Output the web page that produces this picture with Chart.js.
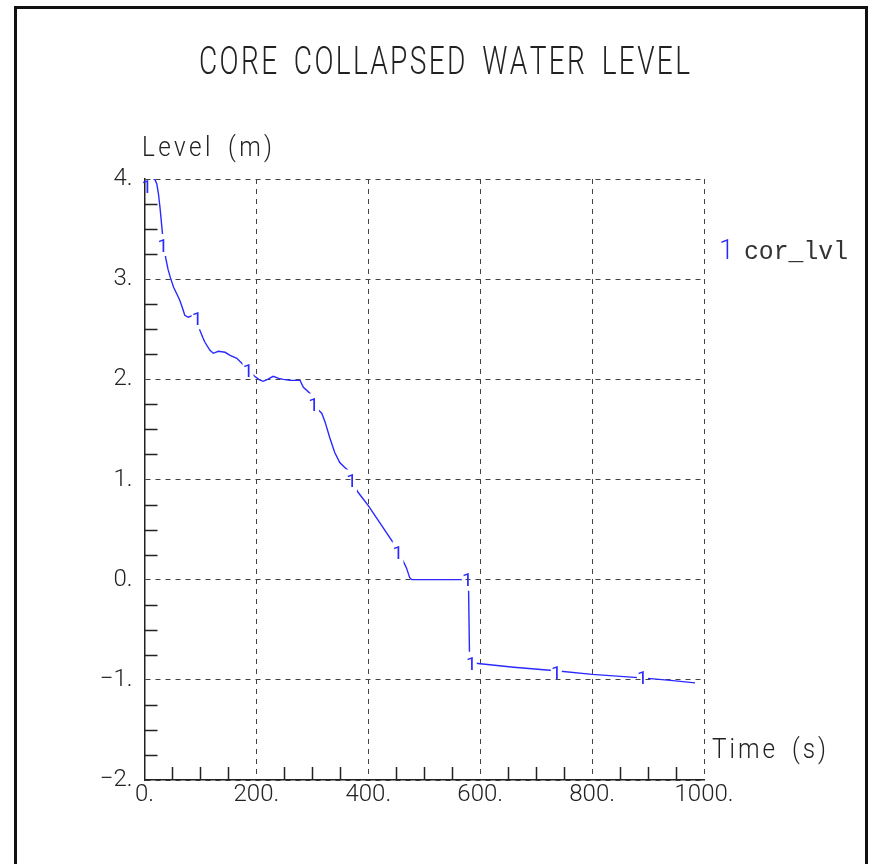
<!DOCTYPE html>
<html>
<head>
<meta charset="utf-8">
<title>Core collapsed water level</title>
<script src="https://cdn.jsdelivr.net/npm/chart.js@4.4.1/dist/chart.umd.min.js"></script>
<style>
  html, body { margin: 0; padding: 0; background: #fff; }
  #wrap { width: 869px; height: 864px; }
</style>
</head>
<body>
<div id="wrap"><canvas id="chart" width="869" height="864"></canvas></div>
<script>
// cor_lvl: collapsed water level in the core (m) against time (s)
const timeS = [0, 3, 15, 19, 22, 25, 28, 32, 35, 38, 42, 46, 52, 58, 63, 68, 72, 78, 87, 94,
  99, 104, 108, 117, 123, 132, 144, 153, 165, 174, 185, 197, 204, 212, 220, 230, 240, 248,
  260, 278, 284, 296, 302, 310, 317, 323, 331, 340, 349, 358, 364, 370, 382, 400, 424, 448,
  453, 462, 468, 474, 478, 520, 579, 581, 585, 600, 660, 735, 800, 889, 940, 984];
const levelM = [4.0, 4.01, 4.01, 3.99, 3.95, 3.85, 3.70, 3.46, 3.33, 3.21, 3.10, 3.02, 2.92, 2.85,
  2.79, 2.71, 2.64, 2.62, 2.64, 2.60, 2.49, 2.42, 2.37, 2.29, 2.26, 2.28, 2.27, 2.24, 2.21,
  2.16, 2.09, 2.03, 2.0, 1.98, 2.0, 2.03, 2.01, 2.0, 1.99, 1.99, 1.92, 1.86, 1.78, 1.70, 1.66,
  1.57, 1.42, 1.27, 1.17, 1.12, 1.09, 0.99, 0.87, 0.74, 0.54, 0.34, 0.27, 0.19, 0.12, 0.02,
  0.0, 0.0, 0.0, -0.80, -0.83, -0.84, -0.875, -0.91, -0.945, -0.98, -1.005, -1.03];

// curve number "1" written along the line
const markT = [4, 33, 94, 185, 302, 370, 453, 577, 584, 736, 890];
const markL = [3.93, 3.34, 2.61, 2.09, 1.75, 0.99, 0.27, 0.0, -0.83, -0.92, -0.975];

const xTicks = [0, 200, 400, 600, 800, 1000];
const yTicks = [-2, -1, 0, 1, 2, 3, 4];
const xMinor = [50, 100, 150, 250, 300, 350, 450, 500, 550, 650, 700, 750, 850, 900, 950];
const yMinor = [-1.75, -1.5, -1.25, -0.75, -0.5, -0.25, 0.25, 0.5, 0.75, 1.25, 1.5, 1.75,
  2.25, 2.5, 2.75, 3.25, 3.5, 3.75];

const chartTitle = 'CORE COLLAPSED WATER LEVEL';
const xTitle = 'Time (s)';
const yTitle = 'Level (m)';
const seriesName = 'cor_lvl';

const lineColor = '#2a2aff';
const inkColor = '#222';
const gridColor = '#444';

// letters spread out to a given width, squeezed sideways like a plotter font
function trackText(ctx, text, left, right, baseline, size, sx, spaceW) {
  ctx.font = '300 ' + size + 'px Roboto, "DejaVu Sans", sans-serif';
  ctx.textAlign = 'left';
  ctx.textBaseline = 'alphabetic';
  const chars = [...text];
  const widths = chars.map(ch => ch === ' ' ? spaceW : ctx.measureText(ch).width * sx);
  const total = widths.reduce((a, b) => a + b, 0);
  const gap = (right - left - total) / (chars.length - 1);
  let x = left;
  chars.forEach((ch, i) => {
    if (ch !== ' ') {
      ctx.save();
      ctx.translate(x, baseline);
      ctx.scale(sx, 1);
      ctx.fillText(ch, 0, 0);
      ctx.restore();
    }
    x += widths[i] + gap;
  });
}

const decorations = {
  id: 'decorations',
  beforeDraw(chart) {
    const ctx = chart.ctx;
    ctx.save();
    ctx.fillStyle = '#fff';
    ctx.fillRect(0, 0, chart.width, chart.height);
    ctx.strokeStyle = '#111';
    ctx.lineWidth = 3;
    ctx.strokeRect(15.5, 7.5, 851, 900);
    ctx.restore();
  },
  beforeDatasetDraw(chart, args) {
    if (args.index !== 0) return;
    // leave a hole in the curve where each number sits
    const ctx = chart.ctx;
    ctx.save();
    ctx.beginPath();
    ctx.rect(0, 0, chart.width, chart.height);
    chart.getDatasetMeta(1).data.forEach(p => ctx.rect(p.x - 5.5, p.y - 11, 11, 22));
    ctx.clip('evenodd');
  },
  afterDatasetDraw(chart, args) {
    if (args.index !== 0) return;
    chart.ctx.restore();
  },
  afterDraw(chart) {
    const ctx = chart.ctx;
    const xs = chart.scales.x, ys = chart.scales.y;
    ctx.save();

    // minor ticks pointing into the plot
    ctx.strokeStyle = '#222';
    ctx.lineWidth = 1.5;
    ctx.beginPath();
    xMinor.forEach(v => {
      const px = Math.round(xs.getPixelForValue(v)) + 0.5;
      ctx.moveTo(px, ys.bottom);
      ctx.lineTo(px, ys.bottom - 13);
    });
    yMinor.forEach(v => {
      const py = Math.round(ys.getPixelForValue(v)) + 0.5;
      ctx.moveTo(xs.left, py);
      ctx.lineTo(xs.left + 13, py);
    });
    ctx.stroke();

    // numbers on the curve
    ctx.fillStyle = lineColor;
    ctx.font = '19px Roboto, "DejaVu Sans", sans-serif';
    ctx.textAlign = 'center';
    ctx.textBaseline = 'alphabetic';
    chart.getDatasetMeta(1).data.forEach(p => ctx.fillText('1', p.x, p.y + 6.8));

    // titles
    ctx.fillStyle = inkColor;
    trackText(ctx, chartTitle, 199, 690, 73.5, 39, 0.72, 12);
    trackText(ctx, yTitle, 142, 272, 156, 27, 0.9, 11);
    trackText(ctx, xTitle, 712, 826, 758, 27, 0.9, 11);

    // legend
    ctx.fillStyle = lineColor;
    ctx.font = '300 27px Roboto, "DejaVu Sans", sans-serif';
    ctx.textAlign = 'left';
    ctx.fillText('1', 719, 259);
    ctx.fillStyle = '#333';
    ctx.font = '25px "Liberation Mono", "DejaVu Sans Mono", monospace';
    const w = ctx.measureText(seriesName).width;
    ctx.save();
    ctx.translate(744, 259);
    ctx.scale(104 / w, 1);
    ctx.fillText(seriesName, 0, 0);
    ctx.restore();

    ctx.restore();
  }
};

const tickFont = { family: 'Roboto, "DejaVu Sans", sans-serif', size: 24, weight: '300' };

new Chart(document.getElementById('chart'), {
  type: 'scatter',
  data: {
    datasets: [{
      label: seriesName,
      data: timeS.map((t, i) => ({ x: t, y: levelM[i] })),
      showLine: true,
      borderColor: lineColor,
      borderWidth: 1.4,
      pointRadius: 0,
      tension: 0
    }, {
      label: 'marks',
      data: markT.map((t, i) => ({ x: t, y: markL[i] })),
      showLine: false,
      pointRadius: 0
    }]
  },
  options: {
    responsive: false,
    animation: false,
    events: [],
    layout: { padding: { left: 0, top: 179, right: 165, bottom: 0 } },
    plugins: {
      legend: { display: false },
      tooltip: { enabled: false },
      title: { display: false }
    },
    scales: {
      x: {
        type: 'linear',
        min: 0,
        max: 1000,
        afterBuildTicks: s => { s.ticks = xTicks.map(v => ({ value: v })); },
        afterFit: s => { s.height = 84; },
        ticks: {
          callback: v => v + '.',
          font: tickFont,
          color: inkColor,
          padding: 1,
          maxRotation: 0,
          autoSkip: false
        },
        grid: { color: gridColor, lineWidth: 1, drawTicks: false },
        border: { color: '#222', width: 1.5, dash: [5, 5] }
      },
      y: {
        type: 'linear',
        min: -2,
        max: 4,
        afterBuildTicks: s => { s.ticks = yTicks.map(v => ({ value: v })); },
        afterFit: s => { s.width = 144.5; },
        ticks: {
          callback: v => (v < 0 ? '\u2212' + Math.abs(v) : v) + '.',
          font: tickFont,
          color: inkColor,
          padding: 12,
          autoSkip: false
        },
        grid: { color: gridColor, lineWidth: 1, drawTicks: false },
        border: { color: '#222', width: 1.5, dash: [5, 5] }
      }
    }
  },
  plugins: [decorations]
});
</script>
</body>
</html>
